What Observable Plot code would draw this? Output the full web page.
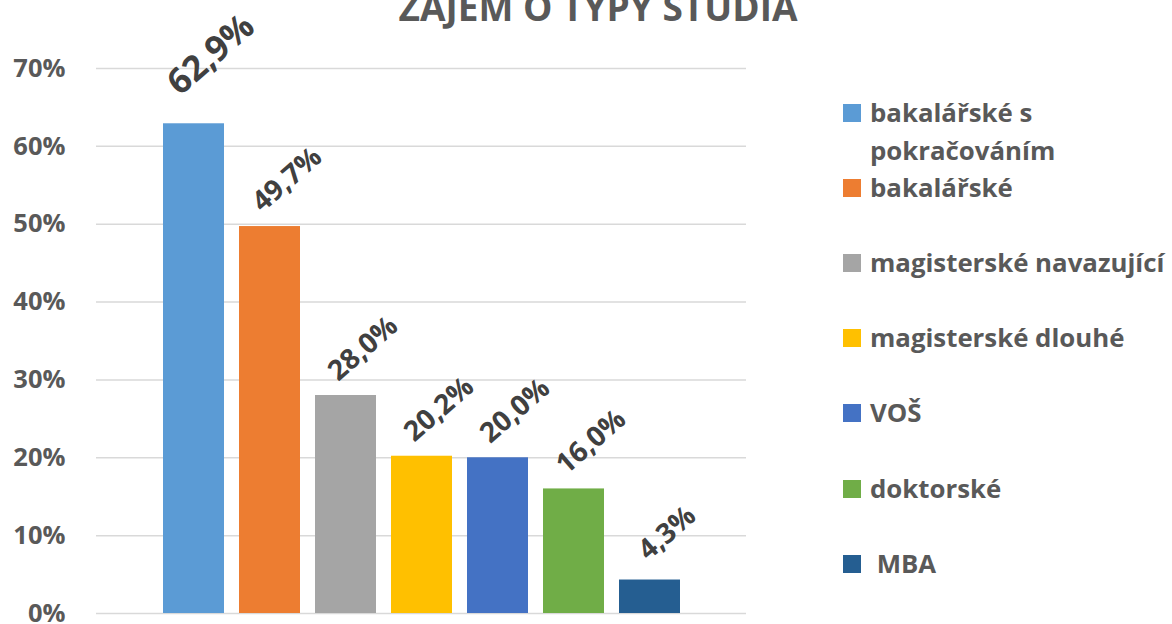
<!DOCTYPE html>
<html>
<head>
<meta charset="utf-8">
<script src="https://cdn.jsdelivr.net/npm/d3@7"></script>
<script src="https://cdn.jsdelivr.net/npm/@observablehq/plot@0.6"></script>
<style>
  html, body { margin: 0; padding: 0; background: #fff; }
  #chart { width: 1172px; height: 624px; overflow: hidden; }
</style>
</head>
<body>
<div id="chart"></div>
<script>
const title = "ZÁJEM O TYPY STUDIA";
const series = ["bakalářské s pokračováním", "bakalářské", "magisterské navazující", "magisterské dlouhé", "VOŠ", "doktorské", "MBA"];
const legendLabels = ["bakalářské s\npokračováním", "bakalářské", "magisterské navazující", "magisterské dlouhé", "VOŠ", "doktorské", " MBA"];
const values = [62.9, 49.7, 28.0, 20.2, 20.0, 16.0, 4.3];
const colors = ["#5B9BD5", "#ED7D31", "#A5A5A5", "#FFC000", "#4472C4", "#70AD47", "#255E91"];
const yTicks = [0, 10, 20, 30, 40, 50, 60, 70];

const data = series.map((s, i) => ({series: s, value: values[i]}));
const fmt = v => v.toFixed(1).replace(".", ",") + "%";

const W = 1172, H = 624;
const chart = Plot.plot({
  width: W,
  height: H,
  marginTop: 68,
  marginBottom: 11,
  marginLeft: 96,
  marginRight: 426,
  style: {fontFamily: "'Open Sans', sans-serif", fontWeight: "bold", fontSize: "25px", color: "#595959", background: "#fff"},
  x: {domain: series, range: [161, 681], padding: 0.2, paddingOuter: 0, axis: null},
  y: {domain: [0, 70], ticks: yTicks, tickFormat: d => d + "%", label: null},
  color: {domain: series, range: colors},
  marks: [
    Plot.ruleY(yTicks, {stroke: "#D9D9D9", strokeWidth: 1.5}),
    Plot.axisY({ticks: yTicks, tickSize: 0, tickPadding: 31, tickFormat: d => d + "%", label: null, fill: "#595959", fontSize: 25.5, fontWeight: "bold"}),
    Plot.barY(data, {x: "series", y: "value", fill: "series"}),
    Plot.text(data.filter((d, i) => i === 0), {x: "series", y: "value", text: d => fmt(d.value), rotate: -41, dx: 17, dy: -69, fontSize: 35, fontWeight: "bold", fill: "#404040"}),
    Plot.text(data.filter((d, i) => i > 0), {x: "series", y: "value", text: d => fmt(d.value), rotate: -41, dx: 17, dy: -47, fontSize: 28, fontWeight: "bold", fill: "#404040"})
  ]
});

const svg = d3.select(chart);
// title (partly clipped at the top, as in the reference)
svg.append("text")
  .attr("x", 598).attr("y", 21)
  .attr("text-anchor", "middle")
  .attr("font-size", 37).attr("font-weight", "bold")
  .attr("fill", "#595959")
  .text(title);

// legend
const baselines = [122, 197, 272, 347, 422, 498, 573];
const lg = svg.append("g").attr("font-size", 25.8).attr("font-weight", "bold").attr("fill", "#595959").attr("text-anchor", "start");
legendLabels.forEach((lab, i) => {
  const b = baselines[i];
  lg.append("rect").attr("x", 843).attr("y", b - 18).attr("width", 18).attr("height", 18).attr("fill", colors[i]);
  const lines = lab.split("\n");
  const t = lg.append("text").attr("x", 870).attr("y", b).attr("text-anchor", "start").style("white-space", "pre");
  lines.forEach((ln, j) => {
    t.append("tspan").attr("x", 870).attr("y", b + j * 38).text(ln);
  });
});

document.getElementById("chart").appendChild(chart);
</script>
</body>
</html>
